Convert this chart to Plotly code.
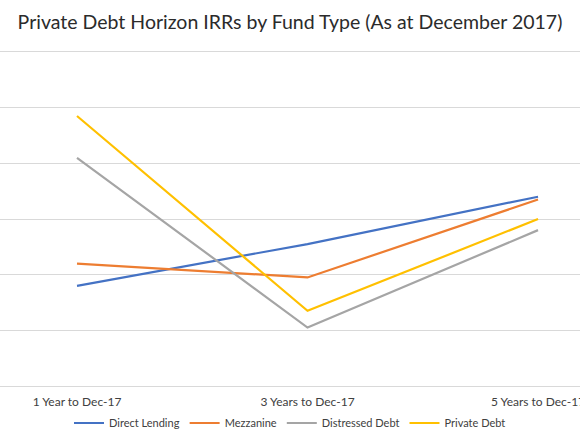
import plotly.graph_objects as go

# horizons (x categories)
horizons = ['1 Year to Dec-17', '3 Years to Dec-17', '5 Years to Dec-17']

# horizon IRRs (%)
direct_lending = [3.6, 5.1, 6.8]
mezzanine = [4.4, 3.9, 6.7]
distressed_debt = [8.2, 2.1, 5.6]
private_debt = [9.7, 2.7, 6.0]

series = [
    ('Direct Lending', direct_lending, '#4472C4'),
    ('Mezzanine', mezzanine, '#ED7D31'),
    ('Distressed Debt', distressed_debt, '#A5A5A5'),
    ('Private Debt', private_debt, '#FFC000'),
]

fig = go.Figure()
for name, vals, col in series:
    fig.add_trace(go.Scatter(x=horizons, y=vals, name=name, mode='lines',
                             line=dict(color=col, width=2.2)))

fig.update_layout(
    width=580, height=435,
    template='none',
    paper_bgcolor='white', plot_bgcolor='white',
    margin=dict(l=0, r=0, t=52, b=49),
    font=dict(family='Lato', color='#404040', size=12),
    title=dict(text='Private Debt Horizon IRRs by Fund Type (As at December 2017)',
               x=0.5, xanchor='center', y=0.949, yanchor='middle',
               font=dict(family='Lato', size=19.5, color='#2b2b2b')),
    legend=dict(orientation='h', x=0.5, xanchor='center',
                yref='container', y=1 - 423 / 435, yanchor='middle',
                font=dict(size=11, color='#404040'), itemwidth=30,
                bgcolor='rgba(0,0,0,0)'),
    showlegend=True,
)
# top/bottom grid lines come from the mirrored x axis line
fig.update_xaxes(type='category', range=[-0.334, 2.182], showgrid=False,
                 showline=True, mirror=True, linecolor='#d9d9d9', linewidth=1.2,
                 zeroline=False, ticks='', automargin=False,
                 ticklabelstandoff=4,
                 tickfont=dict(size=12, color='#404040'))
fig.update_yaxes(range=[0, 12], tickvals=[0, 2, 4, 6, 8, 10, 12],
                 showgrid=True, gridcolor='#d9d9d9',
                 gridwidth=1.2, zeroline=False, showline=False,
                 showticklabels=False, ticks='', automargin=False)

# drop the default page margin so the chart sits at the window corner
fig.write_html("out.html", config={'displayModeBar': False},
               post_script="document.body.style.margin='0';")
